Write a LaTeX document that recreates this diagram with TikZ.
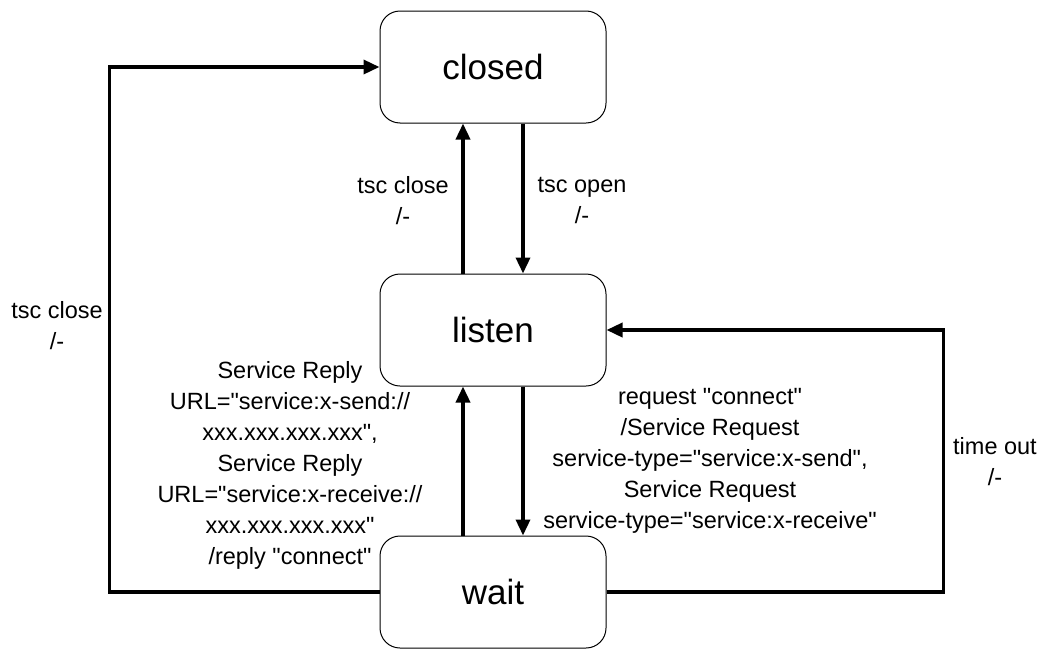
\documentclass[tikz,border=0pt]{standalone}
\usepackage{fontspec}
\setmainfont{Liberation Sans}[Ligatures=TeXOff]
\usetikzlibrary{positioning,arrows.meta}

\begin{document}
\begin{tikzpicture}[x=1pt, y=-1pt,
    state/.style={draw, rounded corners=20pt, minimum width=226pt, minimum height=112pt, line width=1pt, font=\fontsize{35}{42}\selectfont},
    trans/.style={line width=3.5pt, -{Triangle[length=16pt,width=14pt]}},
    lbl/.style={align=center, inner sep=0pt, font=\fontsize{23.5}{31}\selectfont}]
  \useasboundingbox (0,0) rectangle (1044,648);
  \node[state] (closed) at (493,67) {closed};
  \node[state] (listen) at (493,330) {listen};
  \node[state] (wait) at (493,592) {wait};
  \draw[trans] ([xshift=-30pt]listen.north) -- ([xshift=-30pt]closed.south);
  \draw[trans] ([xshift=30pt]closed.south) -- ([xshift=30pt]listen.north);
  \draw[trans] ([xshift=-30pt]wait.north) -- ([xshift=-30pt]listen.south);
  \draw[trans] ([xshift=30pt]listen.south) -- ([xshift=30pt]wait.north);
  \draw[trans] (wait.west) -- ++(-270,0) |- (closed.west);
  \draw[trans] (wait.east) -- ++(337,0) |- (listen.east);
  \node[lbl] (closelbl) at (403,201) {tsc close\\/-};
  \node[lbl] (openlbl) at (582,201) {tsc open\\/-};
  \node[lbl] (abortlbl) at (57,326) {tsc close\\/-};
  \node[lbl] (replylbl) at (290,465) {Service Reply\\URL="service:x-send://\\xxx.xxx.xxx.xxx",\\Service Reply\\URL="service:x-receive://\\xxx.xxx.xxx.xxx"\\/reply "connect"};
  \node[lbl] (requestlbl) at (710,461) {request "connect"\\/Service Request\\service-type="service:x-send",\\Service Request\\service-type="service:x-receive"};
  \node[lbl] (timeoutlbl) at (995,462) {time out\\/-};
\end{tikzpicture}
\end{document}
